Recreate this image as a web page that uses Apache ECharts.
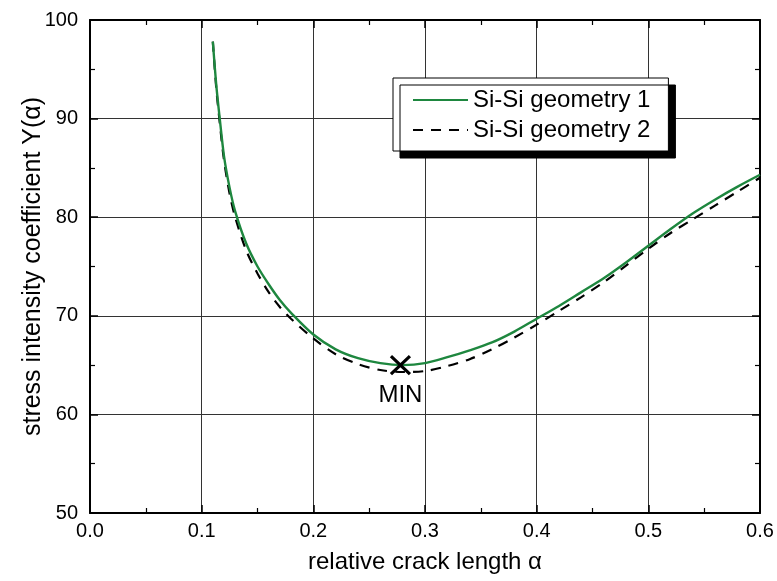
<!DOCTYPE html>
<html>
<head>
<meta charset="utf-8">
<script src="https://cdn.jsdelivr.net/npm/echarts@6/dist/echarts.min.js"></script>
<style>html,body{margin:0;padding:0;background:#fff}#c{width:777px;height:581px}</style>
</head>
<body>
<div id="c"></div>
<script>
// relative crack length alpha
var alpha = [0.110,0.113,0.116,0.120,0.125,0.130,0.140,0.150,0.160,0.170,0.180,0.200,0.220,0.240,0.260,0.280,0.300,0.320,0.340,0.360,0.380,0.400,0.420,0.440,0.460,0.480,0.500,0.520,0.540,0.560,0.580,0.600];
// Si-Si geometry 1
var geom1 = [97.8,93.5,90.2,86.2,83.0,80.6,77.3,75.0,73.2,71.6,70.3,68.1,66.6,65.7,65.2,65.0,65.2,65.8,66.5,67.3,68.4,69.7,71.0,72.4,73.8,75.4,77.1,78.8,80.4,81.8,83.1,84.3];
// Si-Si geometry 2
var geom2 = [97.8,93.2,89.8,85.8,82.4,80.0,76.6,74.3,72.4,70.9,69.7,67.7,66.1,65.1,64.5,64.3,64.4,64.9,65.6,66.6,67.8,69.1,70.5,71.9,73.4,75.1,76.8,78.4,79.8,81.2,82.6,84.0];
var seriesNames = ['Si-Si geometry 1', 'Si-Si geometry 2'];
var minPoint = [0.278, 65.0];
var minLabel = 'MIN';
var xTicks = ['0.0','0.1','0.2','0.3','0.4','0.5','0.6'];
var yTicks = [50,60,70,80,90,100];
var xTitle = 'relative crack length \u03b1';
var yTitle = 'stress intensity coefficient Y(\u03b1)';

function pairs(xs, ys){ return xs.map(function(x,i){ return [x, ys[i]]; }); }

var FONT = 'Liberation Sans, Arial, sans-serif';
var chart = echarts.init(document.getElementById('c'), null, {renderer:'canvas'});
var baseAxis = {
  axisLine:{show:true, onZero:false, lineStyle:{color:'#000', width:2}},
  axisTick:{show:true, inside:true, length:8, lineStyle:{color:'#000', width:1.5}},
  minorTick:{show:true, splitNumber:2, length:5, lineStyle:{color:'#000', width:1.2}}
};
chart.setOption({
  animation:false,
  backgroundColor:'#fff',
  textStyle:{fontFamily:FONT},
  grid:{left:90, right:17, top:20, bottom:68},
  legend:{
    data:seriesNames,
    orient:'vertical',
    left:393, top:78,
    padding:[10,18,9,19],
    itemWidth:55, itemHeight:14, itemGap:6,
    backgroundColor:'#fff',
    borderColor:'#000', borderWidth:1,
    shadowColor:'#000', shadowBlur:0, shadowOffsetX:7, shadowOffsetY:7,
    itemStyle:{color:'transparent', borderWidth:0, opacity:0},
    textStyle:{fontFamily:FONT, fontSize:24, color:'#000'}
  },
  xAxis:[
    Object.assign({}, baseAxis, {
      type:'value', min:0, max:0.6, interval:0.1, position:'bottom',
      name:xTitle, nameLocation:'middle', nameGap:37, nameMoveOverlap:false,
      nameTextStyle:{fontFamily:FONT, fontSize:24, color:'#000'},
      axisLabel:{show:true, margin:8, fontSize:20, color:'#000', fontFamily:FONT,
        formatter:function(v){ var i = Math.round(v*10); return xTicks[i]; }},
      splitLine:{show:true, lineStyle:{color:'#333', width:1}}
    }),
    Object.assign({}, baseAxis, {
      type:'value', min:0, max:0.6, interval:0.1, position:'top',
      axisLabel:{show:false}, splitLine:{show:false}
    })
  ],
  yAxis:[
    Object.assign({}, baseAxis, {
      type:'value', min:yTicks[0], max:yTicks[yTicks.length-1], interval:10, position:'left',
      name:yTitle, nameLocation:'middle', nameGap:44, nameMoveOverlap:false,
      nameTextStyle:{fontFamily:FONT, fontSize:25, color:'#000'},
      axisLabel:{show:true, margin:12, fontSize:20, color:'#000', fontFamily:FONT},
      splitLine:{show:true, lineStyle:{color:'#333', width:1}}
    }),
    Object.assign({}, baseAxis, {
      type:'value', min:yTicks[0], max:yTicks[yTicks.length-1], interval:10, position:'right',
      axisLabel:{show:false}, splitLine:{show:false}
    })
  ],
  series:[
    {
      name:seriesNames[1], type:'line', data:pairs(alpha, geom2),
      smooth:0.3, symbol:'none', z:3,
      lineStyle:{color:'#000', width:2.2, type:[10,8]},
      itemStyle:{color:'#000'}
    },
    {
      name:seriesNames[0], type:'line', data:pairs(alpha, geom1),
      smooth:0.3, symbol:'none', z:4,
      lineStyle:{color:'#1e873f', width:2.4},
      itemStyle:{color:'#1e873f'}
    },
    {
      name:'min', type:'scatter', data:[minPoint], z:5,
      symbol:'path://M0,0L10,10M10,0L0,10', symbolSize:[19,18],
      itemStyle:{color:'transparent', borderColor:'#000', borderWidth:3, opacity:1},
      label:{show:true, position:'bottom', distance:8, formatter:minLabel,
        fontFamily:FONT, fontSize:24, color:'#000', opacity:1}
    }
  ]
});
</script>
</body>
</html>
